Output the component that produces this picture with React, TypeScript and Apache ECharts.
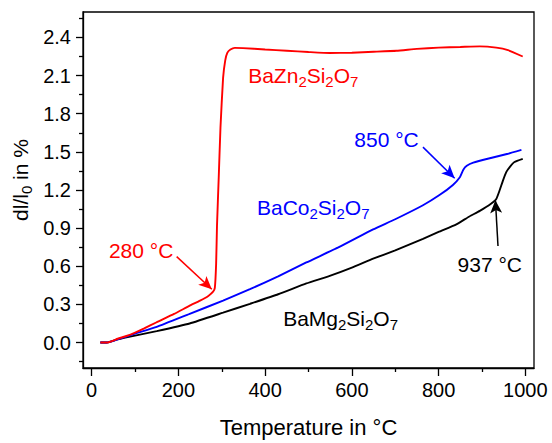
import React, { useEffect, useRef } from "react";
import * as echarts from "echarts";

// ---- data (temperature in °C, dl/l0 in %) ----
const znTemps = [20, 35, 60, 88, 120, 150, 190, 226, 250, 269, 280, 284, 287, 289, 293, 297, 303, 308, 313, 320, 330, 349, 400, 450, 500, 549, 600, 650, 703, 750, 800, 850, 895, 933, 960, 994];
const znValues = [0, 0, 0.03, 0.06, 0.11, 0.16, 0.225, 0.29, 0.33, 0.367, 0.4, 0.43, 0.62, 0.92, 1.3, 1.69, 2.08, 2.22, 2.28, 2.305, 2.318, 2.316, 2.305, 2.295, 2.285, 2.277, 2.28, 2.287, 2.295, 2.31, 2.32, 2.325, 2.33, 2.32, 2.3, 2.25];

const coTemps = [20, 35, 60, 100, 150, 226, 303, 365, 430, 495, 570, 649, 700, 764, 802, 833, 849, 857, 865, 880, 918, 960, 991];
const coValues = [0, 0, 0.025, 0.07, 0.123, 0.226, 0.33, 0.42, 0.52, 0.63, 0.75, 0.89, 0.97, 1.08, 1.16, 1.24, 1.3, 1.36, 1.39, 1.415, 1.45, 1.485, 1.515];

const mgTemps = [20, 35, 60, 100, 150, 226, 303, 365, 430, 495, 549, 600, 649, 700, 764, 800, 841, 870, 895, 920, 933, 941, 948, 956, 964, 975, 994];
const mgValues = [0, 0, 0.025, 0.055, 0.09, 0.15, 0.235, 0.305, 0.38, 0.465, 0.525, 0.59, 0.66, 0.725, 0.815, 0.87, 0.93, 0.99, 1.036, 1.09, 1.13, 1.2, 1.27, 1.34, 1.38, 1.42, 1.445];

const xMajorTicks = [0, 200, 400, 600, 800, 1000];
const xMinorTicks = [100, 300, 500, 700, 900];
const yMajorTicks = [0, 0.3, 0.6, 0.9, 1.2, 1.5, 1.8, 2.1, 2.4];
const yMinorTicks = [-0.15, 0.15, 0.45, 0.75, 1.05, 1.35, 1.65, 1.95, 2.25, 2.55];

// annotation texts and anchors (data coordinates)
const noteTexts = ["280 °C", "BaZn{s|2}Si{s|2}O{s|7}", "BaCo{s|2}Si{s|2}O{s|7}", "850 °C", "BaMg{s|2}Si{s|2}O{s|7}", "937 °C"];
const noteX = [114, 488, 511, 680, 574, 918];
const noteY = [0.727, 2.1, 1.061, 1.601, 0.187, 0.612];
const noteColors = ["#ff0000", "#ff0000", "#0000ff", "#0000ff", "#000000", "#000000"];

const arrowFrom = [[196, 0.676], [764, 1.537], [937, 0.76]];
const arrowTo = [[277, 0.419], [837, 1.293], [931, 1.12]];

const FONT = "Liberation Sans";

function pairs(xs: number[], ys: number[]) {
  return xs.map((x, i) => [x, ys[i]]);
}

function richFor(color: string, size: number, sub: number, shift: number) {
  return {
    n: { fontSize: size, fontFamily: FONT, fill: color },
    s: { fontSize: sub, fontFamily: FONT, fill: color, padding: [shift, 0, 0, 0] },
  };
}

function toRich(t: string) {
  return t.replace(/(^|\})([^{}]+)(?=\{|$)/g, (m, a, b) => a + "{n|" + b + "}");
}

export default function App() {
  const ref = useRef<HTMLDivElement>(null);
  useEffect(() => {
    document.body.style.margin = "0";
    const chart = echarts.init(ref.current!, null, { renderer: "svg" });
    const lineStyleW = 1.9;
    const arrowSeries = (i: number, color: string) => ({
      silent: true,
      symbol: ["none", "arrow"],
      symbolSize: [9, 13],
      label: { show: false },
      lineStyle: { color, width: 1.5, type: "solid" },
      data: [[{ coord: arrowFrom[i] }, { coord: arrowTo[i] }]],
    });
    const axisCommonX = {
      type: "value",
      min: -20,
      max: 1020,
      position: "bottom",
      splitLine: { show: false },
    };
    const axisCommonY = {
      type: "value",
      min: -0.2,
      max: 2.6,
      position: "left",
      splitLine: { show: false },
    };
    const lineSeries = (name: string, xs: number[], ys: number[], color: string, arrowIdx: number, z: number) => ({
      name,
      type: "line",
      data: pairs(xs, ys),
      showSymbol: false,
      smooth: 0.15,
      lineStyle: { color, width: lineStyleW },
      itemStyle: { color },
      markLine: arrowSeries(arrowIdx, color),
      z,
    });
    chart.setOption({
      animation: false,
      backgroundColor: "#ffffff",
      grid: {
        left: 83,
        top: 12,
        width: 451,
        height: 363,
        show: true,
        borderColor: "#000",
        borderWidth: 1.3,
        backgroundColor: "transparent",
      },
      xAxis: [
        {
          ...axisCommonX,
          axisLine: { show: true, onZero: false, lineStyle: { color: "#000", width: 1.3 } },
          axisTick: { show: true, customValues: xMajorTicks, length: 8, lineStyle: { color: "#000", width: 1.3 } },
          axisLabel: {
            show: true,
            customValues: xMajorTicks,
            margin: 12,
            fontSize: 20,
            color: "#000",
            fontFamily: FONT,
            formatter: (v: number) => String(v),
          },
          name: "Temperature in °C",
          nameLocation: "middle",
          nameGap: 48,
          nameTextStyle: { fontSize: 22, color: "#000", fontFamily: FONT },
        },
        {
          ...axisCommonX,
          axisLine: { show: false, onZero: false },
          axisTick: { show: true, customValues: xMinorTicks, length: 4, lineStyle: { color: "#000", width: 1.3 } },
          axisLabel: { show: false },
        },
      ],
      yAxis: [
        {
          ...axisCommonY,
          axisLine: { show: true, onZero: false, lineStyle: { color: "#000", width: 1.3 } },
          axisTick: { show: true, customValues: yMajorTicks, length: 7, lineStyle: { color: "#000", width: 1.3 } },
          axisLabel: {
            show: true,
            customValues: yMajorTicks,
            margin: 12,
            fontSize: 20,
            color: "#000",
            fontFamily: FONT,
            formatter: (v: number) => v.toFixed(1),
          },
        },
        {
          ...axisCommonY,
          axisLine: { show: false, onZero: false },
          axisTick: { show: true, customValues: yMinorTicks, length: 4, lineStyle: { color: "#000", width: 1.3 } },
          axisLabel: { show: false },
        },
      ],
      series: [
        lineSeries("BaMg2Si2O7", mgTemps, mgValues, "#000000", 2, 2),
        lineSeries("BaCo2Si2O7", coTemps, coValues, "#0000ff", 1, 3),
        lineSeries("BaZn2Si2O7", znTemps, znValues, "#ff0000", 0, 4),
      ],
    });

    const graphics: any[] = noteTexts.map((t, i) => {
      const p = chart.convertToPixel({ xAxisIndex: 0, yAxisIndex: 0 }, [noteX[i], noteY[i]]) as number[];
      return {
        type: "text",
        x: p[0],
        y: p[1],
        z: 10,
        style: {
          text: toRich(t),
          rich: richFor(noteColors[i], 21, 15, 12),
          align: "center",
          verticalAlign: "middle",
        },
      };
    });
    graphics.push({
      type: "text",
      x: 20,
      y: 180,
      rotation: Math.PI / 2,
      style: {
        text: toRich("dl/l{s|0} in %"),
        rich: richFor("#000000", 21, 15, 12),
        align: "center",
        verticalAlign: "middle",
      },
    });
    chart.setOption({ graphic: graphics });
    return () => chart.dispose();
  }, []);
  return <div ref={ref} style={{ width: 552, height: 443 }} />;
}
